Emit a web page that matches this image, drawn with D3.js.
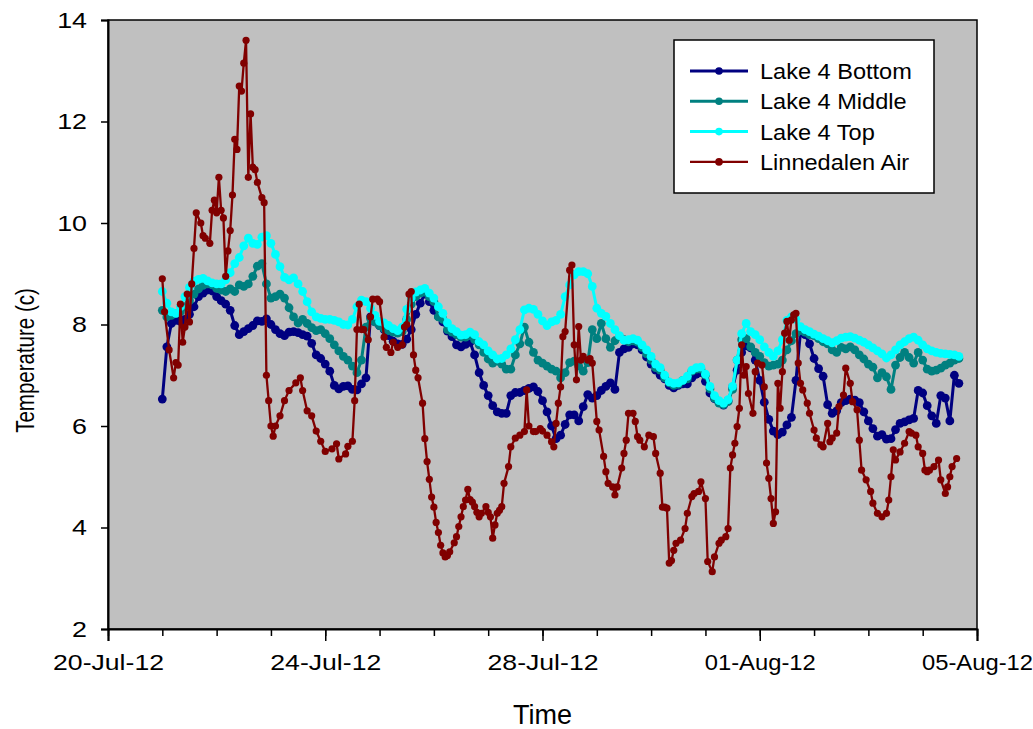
<!DOCTYPE html>
<html>
<head>
<meta charset="utf-8">
<script src="https://cdn.jsdelivr.net/npm/d3@7"></script>
<style>
  html, body { margin: 0; padding: 0; background: #ffffff; }
  svg text { font-family: "Liberation Sans", Arial, sans-serif; fill: #000; }
</style>
</head>
<body>
<svg id="chart" width="1033" height="729"></svg>
<script>
// ---- Series definitions ----
const seriesNames  = ["Lake 4 Bottom", "Lake 4 Middle", "Lake 4 Top", "Linnedalen Air"];
const seriesColors = ["#000080", "#008080", "#00ffff", "#800000"];

// Lake loggers: one reading every 2 hours starting 21-Jul-12 00:00
const lakeStart = new Date(2012, 6, 21, 0, 0);
const lakeStepHours = 2;

const lakeBottom = [
  6.53,7.56,8.02,8.08,8.06,8.10,8.20,8.35,8.55,8.62,
  8.68,8.66,8.55,8.47,8.40,8.28,7.98,7.80,7.86,7.92,
  7.98,8.07,8.06,8.11,8.00,7.90,7.82,7.78,7.85,7.86,
  7.84,7.80,7.77,7.63,7.40,7.33,7.22,7.08,6.80,6.73,
  6.78,6.79,6.72,6.71,6.83,6.95,8.15,8.05,7.98,7.90,
  7.78,7.67,7.62,7.61,7.71,7.90,8.20,8.42,8.60,8.45,
  8.28,8.16,8.05,7.87,7.76,7.60,7.56,7.61,7.65,7.40,
  7.05,6.80,6.60,6.40,6.28,6.25,6.25,6.60,6.66,6.66,
  6.70,6.74,6.77,6.68,6.50,6.28,6.00,5.75,5.82,6.03,
  6.22,6.22,6.10,6.38,6.62,6.55,6.60,6.70,6.78,6.85,
  6.72,7.45,7.52,7.55,7.62,7.60,7.50,7.36,7.22,7.10,
  7.00,6.93,6.80,6.75,6.80,6.83,6.83,6.95,7.02,7.05,
  6.88,6.65,6.54,6.47,6.41,6.50,6.76,7.10,7.45,7.58,
  7.54,7.30,6.90,6.47,6.13,5.90,5.83,5.88,6.02,6.17,
  6.90,7.85,7.80,7.62,7.33,7.13,6.98,6.42,6.25,6.30,
  6.46,6.50,6.53,6.51,6.46,6.28,6.10,5.95,5.80,5.83,
  5.74,5.75,5.93,6.05,6.08,6.12,6.15,6.70,6.65,6.40,
  6.20,6.05,6.60,6.55,6.10,7.00,6.84
];

const lakeMiddle = [
  8.28,8.15,8.18,8.22,8.25,8.35,8.47,8.60,8.70,8.77,
  8.80,8.78,8.71,8.68,8.65,8.70,8.65,8.78,8.75,8.80,
  8.95,9.15,9.20,8.80,8.52,8.55,8.60,8.52,8.33,8.15,
  8.03,8.10,8.02,7.94,7.88,7.90,7.82,7.72,7.60,7.48,
  7.37,7.30,7.18,7.05,7.30,7.95,8.12,8.05,7.98,7.92,
  7.88,7.85,7.83,7.86,8.10,8.40,8.55,8.62,8.64,8.55,
  8.45,8.15,8.10,7.90,7.85,7.80,7.75,7.75,7.78,7.70,
  7.60,7.45,7.32,7.24,7.28,7.22,7.12,7.12,7.40,7.62,
  7.95,7.65,7.45,7.30,7.24,7.18,7.12,7.08,6.95,7.05,
  7.25,7.28,7.18,7.08,7.25,7.90,7.72,8.02,7.72,7.55,
  7.68,7.76,7.70,7.66,7.68,7.65,7.55,7.42,7.30,7.15,
  7.10,6.95,6.85,6.80,6.82,6.90,6.93,7.08,7.12,7.12,
  7.00,6.73,6.55,6.45,6.42,6.48,6.72,7.30,7.70,7.72,
  7.56,7.45,7.37,7.25,7.18,7.20,7.22,7.30,7.50,7.68,
  7.82,7.88,7.85,7.80,7.78,7.72,7.66,7.62,7.50,7.45,
  7.55,7.52,7.56,7.50,7.40,7.32,7.22,7.16,6.95,7.05,
  6.97,6.72,7.20,7.35,7.45,7.35,7.24,7.45,7.30,7.12,
  7.08,7.10,7.14,7.20,7.24,7.30,7.33
];

const lakeTop = [
  8.65,8.42,8.25,8.22,8.35,8.55,8.73,8.85,8.89,8.91,
  8.86,8.82,8.80,8.80,8.88,9.02,9.20,9.32,9.55,9.70,
  9.60,9.58,9.72,9.75,9.60,9.38,9.14,8.93,8.88,8.92,
  8.80,8.65,8.45,8.25,8.15,8.12,8.10,8.10,8.08,8.05,
  8.00,7.99,8.10,8.35,8.48,8.45,8.32,8.18,8.06,8.03,
  7.98,7.92,7.88,7.95,8.30,8.52,8.64,8.68,8.71,8.62,
  8.52,8.35,8.22,8.03,7.92,7.86,7.79,7.80,7.85,7.80,
  7.66,7.60,7.48,7.40,7.32,7.33,7.40,7.52,7.70,7.90,
  8.29,8.32,8.30,8.20,8.07,7.98,8.05,8.08,8.20,8.55,
  8.78,8.98,9.04,9.04,9.00,8.75,8.32,8.22,8.16,8.02,
  7.90,7.78,7.69,7.70,7.72,7.69,7.60,7.50,7.37,7.22,
  7.15,7.00,6.87,6.84,6.85,6.90,6.98,7.10,7.15,7.16,
  7.02,6.78,6.60,6.50,6.45,6.52,6.78,7.30,7.82,8.02,
  7.86,7.80,7.70,7.56,7.45,7.37,7.48,7.70,8.08,8.15,
  8.10,7.96,7.90,7.86,7.81,7.77,7.72,7.68,7.64,7.68,
  7.73,7.75,7.76,7.73,7.69,7.65,7.60,7.54,7.48,7.42,
  7.34,7.40,7.50,7.60,7.66,7.72,7.75,7.69,7.60,7.52,
  7.48,7.45,7.43,7.42,7.41,7.40,7.37
];

// Air station: hours after 21-Jul-12 00:00 and temperature
const airHours = [
  0,1,3,5,6,7,8,9,10,11,
  12,13,14,15,17,18,19,21,22,23,
  24,25,26,27,28,29,30,31,32,33,
  34,35,36,37,38,39,40,41,42,44,
  45,46,47,48,49,50,52,54,56,59,
  61,62,64,66,68,70,72,75,77,78,
  81,82,84,85,86,87,88,89,91,92,
  93,95,96,98,99,101,102,104,106,107,
  108,109,110,111,112,113,115,116,117,118,
  119,120,121,122,123,124,125,126,127,129,
  130,131,132,133,134,135,136,137,138,139,
  140,141,143,144,145,146,147,148,149,150,
  151,153,154,156,158,160,161,162,164,165,
  167,168,170,172,173,174,175,176,177,178,
  180,181,182,183,184,185,186,188,189,190,
  192,193,195,196,197,199,200,201,203,204,
  205,206,208,209,210,211,213,215,217,218,
  220,221,222,223,224,225,226,227,229,231,
  232,234,235,237,238,240,241,243,244,246,
  247,249,250,251,252,253,254,255,256,257,
  258,259,261,262,263,265,266,267,268,269,
  270,271,272,273,274,275,276,277,278,279,
  280,281,282,283,285,286,288,289,291,292,
  294,295,296,298,299,301,302,304,305,307,
  308,309,311,313,314,316,318,320,321,322,
  323,324,326,328,330,331,333,334,336,337,
  338,339,341,343,344,346,347,348,349,351
];
const airTemp = [
  8.90,8.25,7.50,6.95,7.25,7.20,8.40,7.65,7.95,8.60,
  8.05,8.80,9.50,10.20,10.00,9.75,9.70,9.60,10.25,10.45,
  10.20,10.90,10.25,10.10,8.95,9.45,9.85,10.55,11.65,11.45,
  12.70,12.60,13.15,13.60,10.90,12.15,11.10,11.05,10.80,10.50,
  10.40,7.00,6.50,6.00,5.80,6.00,6.20,6.50,6.70,6.85,
  6.95,6.70,6.30,6.20,5.90,5.70,5.50,5.55,5.65,5.35,
  5.45,5.60,5.70,6.50,7.90,8.40,7.90,7.90,7.70,8.15,
  8.50,8.50,8.45,7.75,7.55,7.45,7.65,7.55,7.60,7.95,
  8.00,8.60,8.65,7.40,7.10,6.95,6.45,5.75,5.30,4.95,
  4.60,4.40,4.10,3.90,3.65,3.50,3.42,3.45,3.52,3.70,
  3.82,4.02,4.21,4.41,4.54,4.75,4.55,4.50,4.41,4.30,
  4.21,4.28,4.41,4.30,4.21,3.79,4.05,4.28,4.34,4.41,
  4.87,5.20,5.59,5.76,5.82,5.89,6.71,6.00,5.89,5.89,
  5.95,5.90,5.82,5.69,5.59,6.05,6.45,6.77,7.76,7.86,
  9.07,9.17,7.60,6.91,7.96,7.30,7.37,7.30,7.33,7.24,
  6.09,5.92,5.40,5.10,4.87,4.80,4.64,4.80,5.17,5.46,
  5.72,6.25,6.25,6.09,5.79,5.72,5.59,5.82,5.79,5.46,
  5.07,4.40,4.40,4.38,3.30,3.35,3.55,3.69,3.75,3.98,
  4.28,4.61,4.67,4.71,4.90,4.57,3.33,3.13,3.42,3.69,
  3.75,3.82,3.98,5.17,5.43,5.66,5.99,6.35,7.60,7.00,
  7.17,6.64,6.25,7.07,7.24,7.20,6.77,5.27,4.97,4.57,
  4.08,4.31,6.84,6.35,7.07,7.83,8.06,7.69,8.09,8.19,
  8.22,7.24,6.84,6.71,6.45,6.25,5.92,5.76,5.63,5.59,
  6.05,5.69,5.76,5.86,6.38,6.61,7.14,6.84,6.48,6.32,
  5.72,5.13,4.94,4.71,4.48,4.28,4.21,4.28,4.54,5.00,
  5.53,5.33,5.49,5.66,5.89,5.86,5.82,5.59,5.46,5.13,
  5.10,5.13,5.20,5.33,4.94,4.67,4.80,5.00,5.20,5.36
];

// Axis ticks
const yTicks = [2, 4, 6, 8, 10, 12, 14];
const xTickLabels = ["20-Jul-12", "24-Jul-12", "28-Jul-12", "01-Aug-12", "05-Aug-12"];
const xDomainLabels = ["20-Jul-12", "05-Aug-12"];

// ---- Layout ----
const W = 1033, H = 729;
const margin = { left: 108, top: 20, right: 56, bottom: 100 };
const plotW = W - margin.left - margin.right;
const plotH = H - margin.top - margin.bottom;
const yLabelStretch = 1.22;  // numeric tick labels are set slightly wide
const xLabelWidth = 111;     // date labels share one set width

const parseLabel = d3.timeParse("%d-%b-%y");
const fmtLabel = d3.timeFormat("%d-%b-%y");
const HOUR = 3600 * 1000;

const x = d3.scaleTime()
  .domain(xDomainLabels.map(parseLabel))
  .range([0, plotW]);
const y = d3.scaleLinear()
  .domain([d3.min(yTicks), d3.max(yTicks)])
  .range([plotH, 0]);

// Build point lists
function lakePoints(values) {
  return values.map((v, i) => ({ t: new Date(lakeStart.getTime() + i * lakeStepHours * HOUR), v }));
}
const series = [
  { name: seriesNames[0], color: seriesColors[0], pts: lakePoints(lakeBottom), lw: 3, r: 4.4 },
  { name: seriesNames[1], color: seriesColors[1], pts: lakePoints(lakeMiddle), lw: 3, r: 4.4 },
  { name: seriesNames[2], color: seriesColors[2], pts: lakePoints(lakeTop),    lw: 3, r: 4.4 },
  { name: seriesNames[3], color: seriesColors[3],
    pts: airHours.map((h, i) => ({ t: new Date(lakeStart.getTime() + h * HOUR), v: airTemp[i] })),
    lw: 2.3, r: 3.6 }
];

const svg = d3.select("#chart");
const g = svg.append("g").attr("transform", `translate(${margin.left},${margin.top})`);

// Plot background and frame
g.append("rect")
  .attr("x", 0).attr("y", 0).attr("width", plotW).attr("height", plotH)
  .attr("fill", "#c0c0c0").attr("stroke", "#000").attr("stroke-width", 1.5);

// Data
const line = d3.line().x(d => x(d.t)).y(d => y(d.v));
series.forEach(s => {
  const sg = g.append("g");
  sg.append("path")
    .datum(s.pts)
    .attr("d", line)
    .attr("fill", "none")
    .attr("stroke", s.color)
    .attr("stroke-width", s.lw)
    .attr("stroke-linejoin", "round");
  sg.selectAll("circle")
    .data(s.pts)
    .join("circle")
    .attr("cx", d => x(d.t))
    .attr("cy", d => y(d.v))
    .attr("r", s.r)
    .attr("fill", s.color);
});

// widen a text element about its anchor
function stretch(sel, k) {
  sel.each(function () {
    const w = this.getComputedTextLength();
    d3.select(this).attr("textLength", w * k).attr("lengthAdjust", "spacingAndGlyphs");
  });
}

// Y axis
const yAxis = g.append("g")
  .call(d3.axisLeft(y).tickValues(yTicks).tickSize(7).tickPadding(14).tickFormat(d3.format("d")));
yAxis.select(".domain").attr("stroke", "#000").attr("stroke-width", 2);
yAxis.selectAll(".tick line").attr("stroke", "#000").attr("stroke-width", 1.5);
yAxis.selectAll(".tick text").attr("font-size", 22).attr("font-family", "Liberation Sans, Arial, sans-serif");
stretch(yAxis.selectAll(".tick text"), yLabelStretch);

// X axis: daily minor ticks, labelled major ticks every 4 days
const xMinor = g.append("g")
  .attr("transform", `translate(0,${plotH})`)
  .call(d3.axisBottom(x).ticks(d3.timeDay.every(1)).tickSize(7).tickFormat(""));
xMinor.select(".domain").remove();
xMinor.selectAll(".tick line").attr("stroke", "#000").attr("stroke-width", 1.5);

const xAxis = g.append("g")
  .attr("transform", `translate(0,${plotH})`)
  .call(d3.axisBottom(x).tickValues(xTickLabels.map(parseLabel)).tickSize(12).tickPadding(13).tickFormat(fmtLabel));
xAxis.select(".domain").attr("stroke", "#000").attr("stroke-width", 2);
xAxis.selectAll(".tick line").attr("stroke", "#000").attr("stroke-width", 1.5);
xAxis.selectAll(".tick text")
  .attr("font-size", 22)
  .attr("font-family", "Liberation Sans, Arial, sans-serif")
  .attr("textLength", xLabelWidth)
  .attr("lengthAdjust", "spacingAndGlyphs");

// Axis titles
svg.append("text")
  .attr("x", margin.left + plotW / 2)
  .attr("y", 724)
  .attr("text-anchor", "middle")
  .attr("font-size", 27)
  .text("Time");
const yTitle = svg.append("text")
  .attr("transform", `translate(34,${margin.top + plotH / 2 + 36}) rotate(-90)`)
  .attr("text-anchor", "middle")
  .attr("font-size", 25)
  .text("Temperature (c)");
stretch(yTitle, 0.82);

// Legend
const legend = svg.append("g").attr("transform", "translate(674,40)");
legend.append("rect")
  .attr("width", 260).attr("height", 153)
  .attr("fill", "#fff").attr("stroke", "#000").attr("stroke-width", 1.5);
series.forEach((s, i) => {
  const ly = 31 + i * 30.3;
  legend.append("line")
    .attr("x1", 16).attr("x2", 74).attr("y1", ly).attr("y2", ly)
    .attr("stroke", s.color).attr("stroke-width", i < 3 ? 3 : 2.3);
  legend.append("circle")
    .attr("cx", 45).attr("cy", ly).attr("r", 3.8).attr("fill", s.color);
  const t = legend.append("text")
    .attr("x", 86).attr("y", ly)
    .attr("dy", "0.36em")
    .attr("font-size", 22)
    .text(s.name);
  stretch(t, 1.07);
});
</script>
</body>
</html>
